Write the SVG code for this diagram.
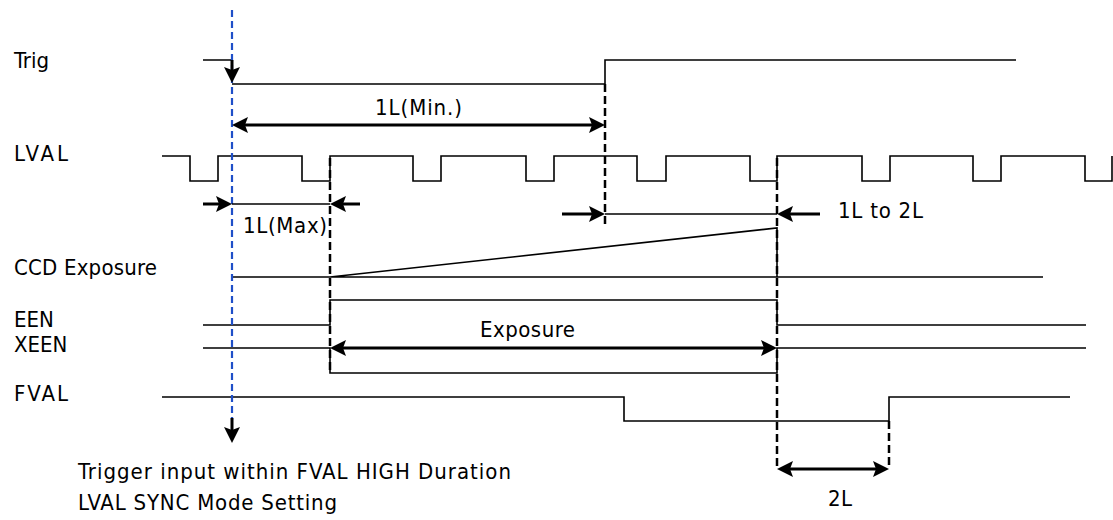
<svg xmlns="http://www.w3.org/2000/svg" xmlns:xlink="http://www.w3.org/1999/xlink" width="1113" height="520" viewBox="0 0 1113 520">
<style>
text{font-family:"DejaVu Sans Condensed","DejaVu Sans","Liberation Sans",sans-serif;font-stretch:condensed;font-size:22px;fill:#000}
.sig{fill:none;stroke:#000;stroke-width:1.6}
.thin{fill:none;stroke:#000;stroke-width:1.5}
.thick{fill:none;stroke:#000;stroke-width:3}
.dash{fill:none;stroke:#000;stroke-width:2.5;stroke-dasharray:8 4}
.blue{fill:none;stroke:#1f4fc8;stroke-width:2.2;stroke-dasharray:7 4}
.ah{fill:#000}
</style>
<defs>
<path id="ah" d="M0,0 L-16,-8 L-13,0 L-16,8 Z"/>
</defs>
<rect width="1113" height="520" fill="#fff"/>

<g id="trig">
<text x="14" y="68">Trig</text>
<path class="sig" d="M203,60 H232 M232,84 H605 V60 H1016"/>
</g>

<g id="lval">
<text x="14" y="161" textLength="54">LVAL</text>
<path class="sig" d="M162,156 H190 V181 H218 V156 H302 V181 H330 V156 H413 V181 H441 V156 H526 V181 H554 V156 H637 V181 H666 V156 H750 V181 H777 V156 H862 V181 H890 V156 H973 V181 H1001 V156 H1085 V181 H1112 V156"/>
</g>

<g id="ccd">
<text x="14" y="275" textLength="143">CCD Exposure</text>
<path class="sig" d="M232,277 H1043 M330,277 L777,228 V277"/>
</g>

<g id="een">
<text x="14" y="327">EEN</text>
<path class="sig" d="M203,325 H330 V300 H777 V325 H1086"/>
</g>

<g id="xeen">
<text x="14" y="352">XEEN</text>
<path class="sig" d="M203,348 H330 V373 H777 V348 H1086"/>
</g>

<g id="fval">
<text x="14" y="401" textLength="54">FVAL</text>
<path class="sig" d="M162,397 H624 V421 H889 V397 H1070"/>
</g>

<g id="connectors">
<line class="blue" x1="232" y1="10" x2="232" y2="420"/>
<line class="dash" x1="605" y1="84" x2="605" y2="228"/>
<line class="dash" x1="330" y1="158" x2="330" y2="373"/>
<line class="dash" x1="777" y1="158" x2="777" y2="469"/>
<line class="dash" x1="889" y1="421" x2="889" y2="469"/>

<line class="thick" x1="232" y1="60" x2="232" y2="72"/>
<use href="#ah" class="ah" transform="translate(232,83) rotate(90)"/>
<line class="thick" x1="232" y1="418" x2="232" y2="432"/>
<use href="#ah" class="ah" transform="translate(232,443) rotate(90)"/>

<line class="thick" x1="240" y1="125" x2="597" y2="125"/>
<use href="#ah" class="ah" transform="translate(232,125) rotate(180)"/>
<use href="#ah" class="ah" transform="translate(605,125)"/>
<text x="375" y="115" textLength="87">1L(Min.)</text>

<line class="thick" x1="203" y1="204" x2="222" y2="204"/>
<use href="#ah" class="ah" transform="translate(232,204)"/>
<line class="thin" x1="232" y1="204" x2="330" y2="204"/>
<line class="thick" x1="340" y1="204" x2="360" y2="204"/>
<use href="#ah" class="ah" transform="translate(330,204) rotate(180)"/>
<text x="243" y="233" textLength="84">1L(Max)</text>

<line class="thick" x1="562" y1="214" x2="595" y2="214"/>
<use href="#ah" class="ah" transform="translate(605,214)"/>
<line class="thin" x1="605" y1="214" x2="777" y2="214"/>
<line class="thick" x1="787" y1="214" x2="820" y2="214"/>
<use href="#ah" class="ah" transform="translate(777,214) rotate(180)"/>
<text x="838" y="218" textLength="85">1L to 2L</text>

<line class="thick" x1="338" y1="348" x2="769" y2="348"/>
<use href="#ah" class="ah" transform="translate(330,348) rotate(180)"/>
<use href="#ah" class="ah" transform="translate(777,348)"/>
<text x="480" y="337" textLength="95">Exposure</text>

<line class="thick" x1="785" y1="469" x2="881" y2="469"/>
<use href="#ah" class="ah" transform="translate(777,469) rotate(180)"/>
<use href="#ah" class="ah" transform="translate(889,469)"/>
<text x="828" y="506" textLength="24">2L</text>
</g>

<g id="notes">
<text x="78" y="479" textLength="433">Trigger input within FVAL HIGH Duration</text>
<text x="78" y="510" textLength="259">LVAL SYNC Mode Setting</text>
</g>
</svg>
